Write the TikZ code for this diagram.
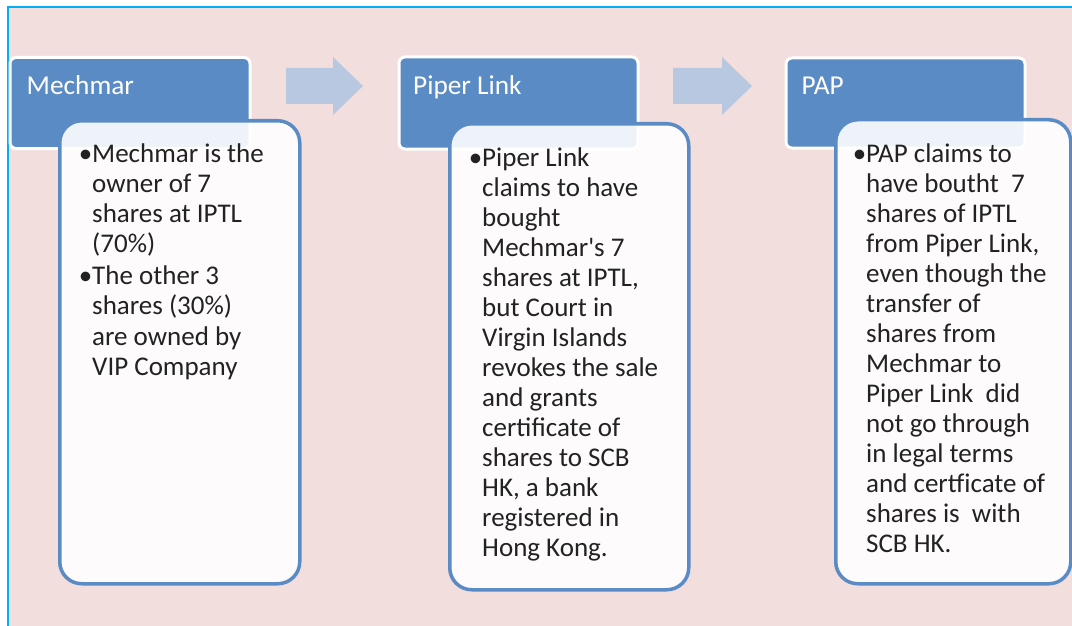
\documentclass[tikz,border=0pt]{standalone}
\usepackage{fontspec}
\usetikzlibrary{calc}
\setmainfont{Carlito}
\definecolor{bg}{HTML}{F2DEDD}
\definecolor{hblue}{HTML}{5B8BC5}
\definecolor{arrowc}{HTML}{B8C8E0}
\definecolor{cyanline}{HTML}{00B0F0}
\definecolor{txt}{HTML}{222222}
\begin{document}
\begin{tikzpicture}[x=1pt,y=-1pt,
  headbox/.style={draw=white, line width=3pt, fill=hblue, rounded corners=6pt, inner sep=0pt, anchor=north west},
  bodybox/.style={draw=hblue, line width=3.5pt, fill=white, fill opacity=0.9, rounded corners=22pt, inner sep=0pt, anchor=north west},
  htext/.style={text=white, font=\fontsize{27.3}{32}\selectfont, anchor=base west, inner sep=0pt},
  btext/.style={text=txt, font=\fontsize{27}{30}\selectfont, anchor=base west, inner sep=0pt},
  blockarrow/.style={fill=arrowc}]
\useasboundingbox (0,0) rectangle (1072,626);
\fill[white] (0,0) rectangle (1072,626);
\fill[bg] (8,8) rectangle (1072,626);
\draw[cyanline, line width=2pt] (7.5,626) -- (7.5,7.5) -- (1072,7.5);

% block arrows
\coordinate (a1) at (286,86);
\coordinate (a2) at (673,86);
\foreach \a/\L/\H in {a1/47/77, a2/49/79}{
  \fill[blockarrow] (\a) ++(0,-18) -- ++(\L,0) -- ++(0,-11) -- ($(\a)+(\H,0)$) -- ($(\a)+(\L,29)$) -- ++(0,-11) -- ($(\a)+(0,18)$) -- cycle;
}

% boxes
\node[headbox, minimum width=240pt, minimum height=91pt] (h1) at (8.5,56) {};
\node[bodybox, minimum width=240pt, minimum height=463pt] (b1) at (58,119) {};
\node[headbox, minimum width=239pt, minimum height=92pt] (h2) at (397.5,55.5) {};
\node[bodybox, minimum width=239pt, minimum height=466pt] (b2) at (448,122) {};
\node[headbox, minimum width=239pt, minimum height=90pt] (h3) at (784.5,56.5) {};
\node[bodybox, minimum width=235pt, minimum height=464pt] (b3) at (834,118) {};

% header texts
\node[htext] (t1) at (26.5,94.5) {Mechmar};
\node[htext] (t2) at (413,94.5) {Piper Link};
\node[htext] (t3) at (801.5,94.5) {PAP};

% body texts
\foreach \t [count=\i from 0] in {{\llap{•}Mechmar is the}, owner of 7, shares at IPTL, (70\%)}
  \node[btext] (p\i) at (92,162+30*\i) {\t};
\foreach \t [count=\i from 0] in {{\llap{•}The other 3}, shares (30\%), are owned by, VIP Company}
  \node[btext] (q\i) at (92,284+30.5*\i) {\t};
\foreach \t [count=\i from 0] in {{\llap{•}Piper Link}, claims to have, bought, Mechmar\textquotesingle s 7, {shares at IPTL,}, but Court in, Virgin Islands, revokes the sale, and grants, certificate of, shares to SCB, {HK, a bank}, registered in, Hong Kong.}
  \node[btext] (r\i) at (482,166+30*\i) {\t};
\foreach \t [count=\i from 0] in {{\llap{•}PAP claims to}, {have boutht~ 7}, shares of IPTL, {from Piper Link,}, even though the, transfer of, shares from, Mechmar to, {Piper Link~ did}, not go through, in legal terms, and certficate of, {shares is~ with}, SCB HK.}
  \node[btext] (s\i) at (866,162+30*\i) {\t};
\end{tikzpicture}
\end{document}
